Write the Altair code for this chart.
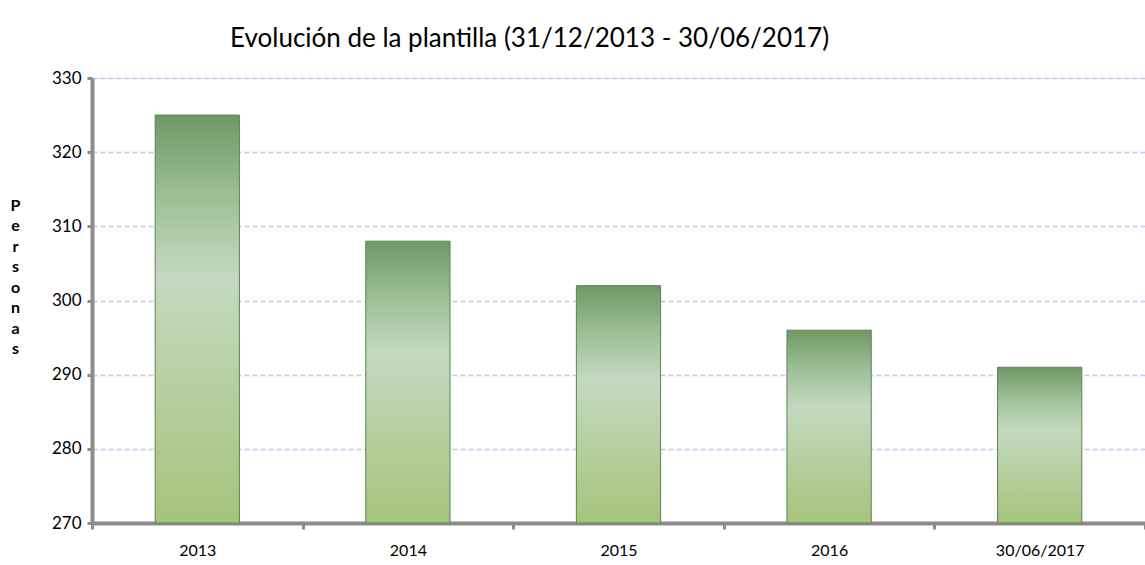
import altair as alt
import pandas as pd

categories = ["2013", "2014", "2015", "2016", "30/06/2017"]
values = [325, 308, 302, 296, 291]
y_ticks = [270, 280, 290, 300, 310, 320, 330]
y_base = 270

df = pd.DataFrame({"periodo": categories, "personas": values})

gradient = alt.Gradient(
    gradient="linear",
    x1=0, y1=0, x2=0, y2=1,
    stops=[
        alt.GradientStop(color="#6e9866", offset=0),
        alt.GradientStop(color="#9dbf95", offset=0.2),
        alt.GradientStop(color="#c4d9c1", offset=0.4),
        alt.GradientStop(color="#b6d0a2", offset=0.65),
        alt.GradientStop(color="#a6c37c", offset=1),
    ],
)

FONT = "Lato"

chart = (
    alt.Chart(df)
    .mark_bar(color=gradient, stroke="#5e8356", strokeWidth=1,
              width=alt.RelativeBandSize(0.4))
    .encode(
        x=alt.X(
            "periodo:N",
            sort=categories,
            scale=alt.Scale(paddingInner=0, paddingOuter=0),
            axis=alt.Axis(
                title=None,
                labelAngle=0,
                labelFont=FONT,
                labelFontSize=16,
                labelColor="#000000",
                labelPadding=13,
                domainColor="#8c8c8c",
                domainWidth=4,
                tickColor="#8c8c8c",
                tickWidth=3,
                tickSize=6,
                tickBand="extent",
                grid=False,
            ),
        ),
        y=alt.Y(
            "personas:Q",
            scale=alt.Scale(domain=[270, 330], nice=False, zero=False),
            axis=alt.Axis(
                values=y_ticks,
                title=["P", "e", "r", "s", "o", "n", "a", "s"],
                titleAngle=0,
                titleFont=FONT,
                titleFontSize=16,
                titleFontWeight="bold",
                titleColor="#000000",
                titleLineHeight=20.5,
                titleAlign="center",
                titleBaseline="top",
                titleX=-77,
                titleY=119,
                labelFont=FONT,
                labelFontSize=17,
                labelColor="#000000",
                labelPadding=6,
                domainColor="#8c8c8c",
                domainWidth=4,
                tickColor="#8c8c8c",
                tickWidth=3,
                tickSize=5,
                grid=True,
                gridColor="#bccced",
                gridDash=[5, 3],
                gridWidth=1.5,
            ),
        ),
        y2=alt.datum(y_base),
    )
    .properties(
        width=1053,
        height=445,
        autosize=alt.AutoSizeParams(type="none"),
        padding={"left": 92, "top": 78, "right": 0, "bottom": 42},
        title=alt.TitleParams(
            "Evolución de la plantilla (31/12/2013 - 30/06/2017)",
            font=FONT,
            fontSize=26,
            fontWeight="normal",
            color="#000000",
            anchor="start",
            dx=220,
            offset=17,
        ),
    )
    .configure_view(stroke=None)
    .configure(background="#ffffff")
)

chart.save("out.html", embed_options={"renderer": "svg", "actions": False})
